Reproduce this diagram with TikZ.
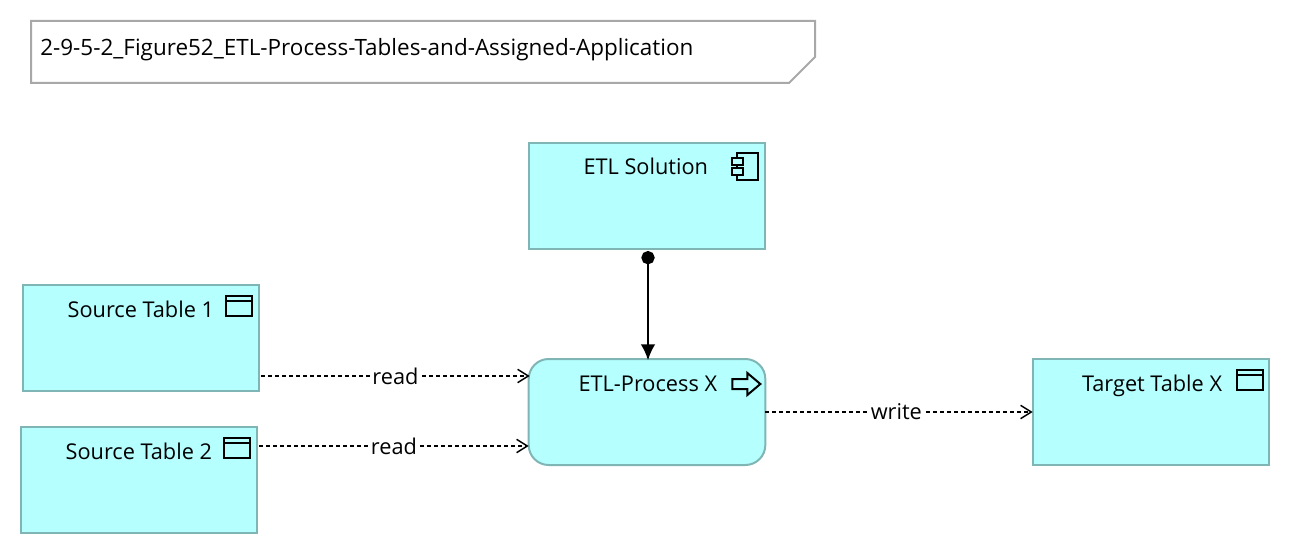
\documentclass[tikz,border=0pt]{standalone}
\usepackage{fontspec}
\setmainfont{Open Sans}
\usetikzlibrary{arrows.meta}
\definecolor{boxfill}{HTML}{B5FFFF}
\definecolor{boxline}{HTML}{7FB5B5}
\definecolor{noteline}{HTML}{A8A8A8}
\begin{document}
\begin{tikzpicture}[
        x=0.75pt, y=-0.75pt,
        box/.style={draw=boxline, fill=boxfill, line width=1.5pt, minimum width=177.5pt, minimum height=79.5pt, inner sep=0pt, outer sep=0pt},
        title/.style={anchor=base east, inner sep=0pt, font=\fontsize{16.3}{18}\selectfont},
        lbl/.style={fill=white, inner sep=0.5pt, font=\fontsize{16.3}{18}\selectfont},
        acc/.style={draw=black, dash pattern=on 3pt off 2.25pt, line width=1.1pt, -{Straight Barb[length=8pt,width=10pt]}},
        icon/.style={draw=black, line width=1.5pt},
        tableicon/.pic={
          \draw[icon] (0,0) rectangle (26,20);
          \draw[icon] (0,5) -- (26,5);
        },
        compicon/.pic={
          \draw[icon] (5,0) rectangle (26,27);
          \draw[icon, fill=boxfill] (0,5) rectangle (11,12);
          \draw[icon, fill=boxfill] (0,15) rectangle (11,22);
        },
        procicon/.pic={
          \draw[icon] (0,6) -- (15,6) -- (15,0) -- (28,11) -- (15,22) -- (15,16) -- (0,16) -- cycle;
        }
      ]
        \useasboundingbox (0,0) rectangle (1292,556);
        \draw[noteline, line width=1.5pt] (31,21) -- (815,21) -- (815,57) -- (789,83) -- (31,83) -- cycle;
        \node[anchor=west, inner sep=0pt, font=\fontsize{16.85}{20}\selectfont] (diagram) at (40,50) {2-9-5-2\_Figure52\_ETL-Process-Tables-and-Assigned-Application};

        \node[box] (solution) at (647,196) {};
        \node[box] (source1) at (141,338) {};
        \node[box] (source2) at (139,480) {};
        \node[box, rounded corners=15pt] (process) at (647,412) {};
        \node[box] (target) at (1151,412) {};

        \node[title] (solutionname) at ([shift={(-57,32)}]solution.north east) {ETL Solution};
        \node[title] (source1name) at ([shift={(-45,32)}]source1.north east) {Source Table 1};
        \node[title] (source2name) at ([shift={(-45,32)}]source2.north east) {Source Table 2};
        \node[title] (processname) at ([shift={(-48,32)}]process.north east) {ETL-Process X};
        \node[title] (targetname) at ([shift={(-47,32)}]target.north east) {Target Table X};

        \pic at ([shift={(-33,10)}]solution.north east) {compicon};
        \pic at ([shift={(-33,11)}]source1.north east) {tableicon};
        \pic at ([shift={(-33,11)}]source2.north east) {tableicon};
        \pic at ([shift={(-33,14)}]process.north east) {procicon};
        \pic at ([shift={(-32,11)}]target.north east) {tableicon};

        \draw[line width=1.5pt, {Circle[length=10pt]}-{Latex[length=12pt,width=11pt]}] ([xshift=0.75pt,yshift=-1.5pt]solution.south) -- ([xshift=0.75pt,yshift=-1pt]process.north);
        \draw[acc] ([xshift=1.5pt]source1.east |- 0,376) -- ([xshift=0.75pt]process.west |- 0,376) node[lbl, pos=0.5] (read1) {read};
        \draw[acc] ([xshift=1.5pt]source2.east |- 0,446) -- (process.west |- 0,446) node[lbl, pos=0.5] (read2) {read};
        \draw[acc] (process.east) -- (target.west) node[lbl, pos=0.49] (write) {write};
      \end{tikzpicture}
\end{document}
